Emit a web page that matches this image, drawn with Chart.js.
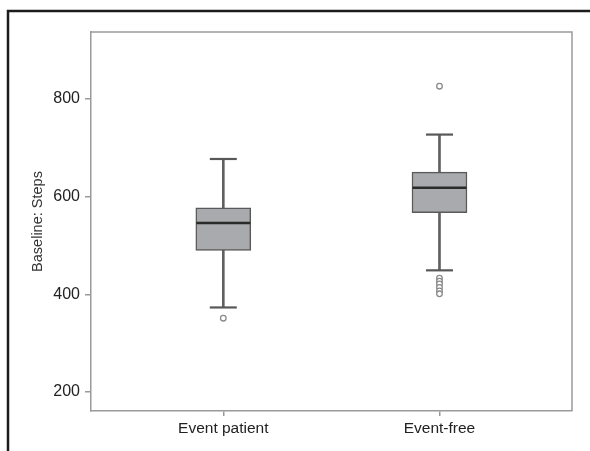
<!DOCTYPE html>
<html>
<head>
<meta charset="utf-8">
<script src="https://cdn.jsdelivr.net/npm/chart.js@4/dist/chart.umd.min.js"></script>
<style>
  html, body { margin: 0; padding: 0; background: #ffffff; }
  #wrap { position: relative; width: 590px; height: 451px; overflow: hidden; }
  canvas { position: absolute; left: 0; top: 0; }
</style>
</head>
<body>
<div id="wrap"><canvas id="c" width="590" height="451"></canvas></div>
<script>
// ---- data ----
const categories = ['Event patient', 'Event-free'];
const whiskerLow = [373, 449];
const q1 = [490, 567];
const median = [546, 618];
const q3 = [577, 650];
const whiskerHigh = [677, 727];
const outliersPatient = [351];
const outliersFree = [826, 433, 427, 421, 414, 407, 401];
const yTicks = [200, 400, 600, 800];
const yTitle = 'Baseline: Steps';

const FONT = "'Liberation Sans', Arial, Helvetica, sans-serif";
const pos = categories.map((c, i) => i + 1);

const boxData = pos.map((x, i) => ({ x: x, y: [q1[i], q3[i]] }));
const upperWhisker = pos.map((x, i) => ({ x: x, y: [q3[i], whiskerHigh[i]] }));
const lowerWhisker = pos.map((x, i) => ({ x: x, y: [whiskerLow[i], q1[i]] }));
const capData = [];
pos.forEach((x, i) => { capData.push({ x: x, y: whiskerHigh[i] }); capData.push({ x: x, y: whiskerLow[i] }); });
const medianData = pos.map((x, i) => ({ x: x, y: median[i] }));
const outlierData = [
  ...outliersPatient.map(v => ({ x: 1, y: v })),
  ...outliersFree.map(v => ({ x: 2, y: v }))
];

const framePlugin = {
  id: 'frames',
  beforeDraw(chart) {
    const ctx = chart.ctx;
    ctx.save();
    ctx.strokeStyle = '#1c1c1c';
    ctx.lineWidth = 2.5;
    ctx.beginPath();
    ctx.moveTo(8, 451);
    ctx.lineTo(8, 11);
    ctx.lineTo(590, 11);
    ctx.stroke();
    ctx.restore();
  },
  afterDraw(chart) {
    const a = chart.chartArea;
    const ctx = chart.ctx;
    ctx.save();
    ctx.strokeStyle = '#9a9a9a';
    ctx.lineWidth = 1.5;
    ctx.beginPath();
    ctx.moveTo(a.left, a.top);
    ctx.lineTo(a.right, a.top);
    ctx.lineTo(a.right, a.bottom);
    ctx.stroke();
    ctx.restore();
  }
};

new Chart(document.getElementById('c'), {
  type: 'bar',
  data: {
    datasets: [
      { type: 'bar', data: boxData, backgroundColor: '#a9aaad', borderColor: '#5a5a5a', borderWidth: 1.5,
        borderSkipped: false, barThickness: 55, grouped: false, order: 4 },
      { type: 'bar', data: upperWhisker, backgroundColor: '#606060', borderWidth: 0,
        barThickness: 2, grouped: false, order: 5 },
      { type: 'bar', data: lowerWhisker, backgroundColor: '#606060', borderWidth: 0,
        barThickness: 2, grouped: false, order: 5 },
      { type: 'scatter', data: capData, pointStyle: 'line', pointRadius: 13.5, borderColor: '#585858',
        borderWidth: 2.2, order: 3 },
      { type: 'scatter', data: medianData, pointStyle: 'line', pointRadius: 27, borderColor: '#2a2a2a',
        borderWidth: 2.6, order: 2 },
      { type: 'scatter', data: outlierData, pointStyle: 'circle', pointRadius: 2.8, borderColor: '#8a8a8a',
        backgroundColor: '#ffffff', borderWidth: 1.3, order: 1 }
    ]
  },
  options: {
    responsive: false,
    animation: false,
    events: [],
    layout: { autoPadding: false, padding: { top: 32, right: 18, left: 0, bottom: 0 } },
    plugins: { legend: { display: false }, tooltip: { enabled: false } },
    scales: {
      x: {
        type: 'linear',
        offset: false,
        min: 0.388,
        max: 2.613,
        afterBuildTicks: s => { s.ticks = pos.map(v => ({ value: v })); },
        afterFit: s => { s.height = 40; s.paddingLeft = 0; s.paddingRight = 0; },
        ticks: {
          callback: v => categories[v - 1] || '',
          font: { family: FONT, size: 15.5 },
          color: '#222222',
          padding: 3,
          autoSkip: false,
          maxRotation: 0
        },
        grid: { display: true, offset: false, drawOnChartArea: false, drawTicks: true, tickLength: 5, color: '#9a9a9a', lineWidth: 1.5 },
        border: { display: true, color: '#9a9a9a', width: 1.5 }
      },
      y: {
        type: 'linear',
        min: 161,
        max: 937,
        afterBuildTicks: s => { s.ticks = yTicks.map(v => ({ value: v })); },
        afterFit: s => { s.width = 91; s.paddingTop = 0; s.paddingBottom = 0; },
        ticks: {
          font: { family: FONT, size: 16 },
          color: '#222222',
          padding: 5
        },
        grid: { display: true, drawOnChartArea: false, drawTicks: true, tickLength: 6, color: '#9a9a9a', lineWidth: 1.5 },
        border: { display: true, color: '#9a9a9a', width: 1.5 },
        title: {
          display: true,
          text: yTitle,
          font: { family: FONT, size: 14.5 },
          color: '#333333',
          padding: { top: 29, bottom: 0 }
        }
      }
    }
  },
  plugins: [framePlugin]
});
</script>
</body>
</html>
